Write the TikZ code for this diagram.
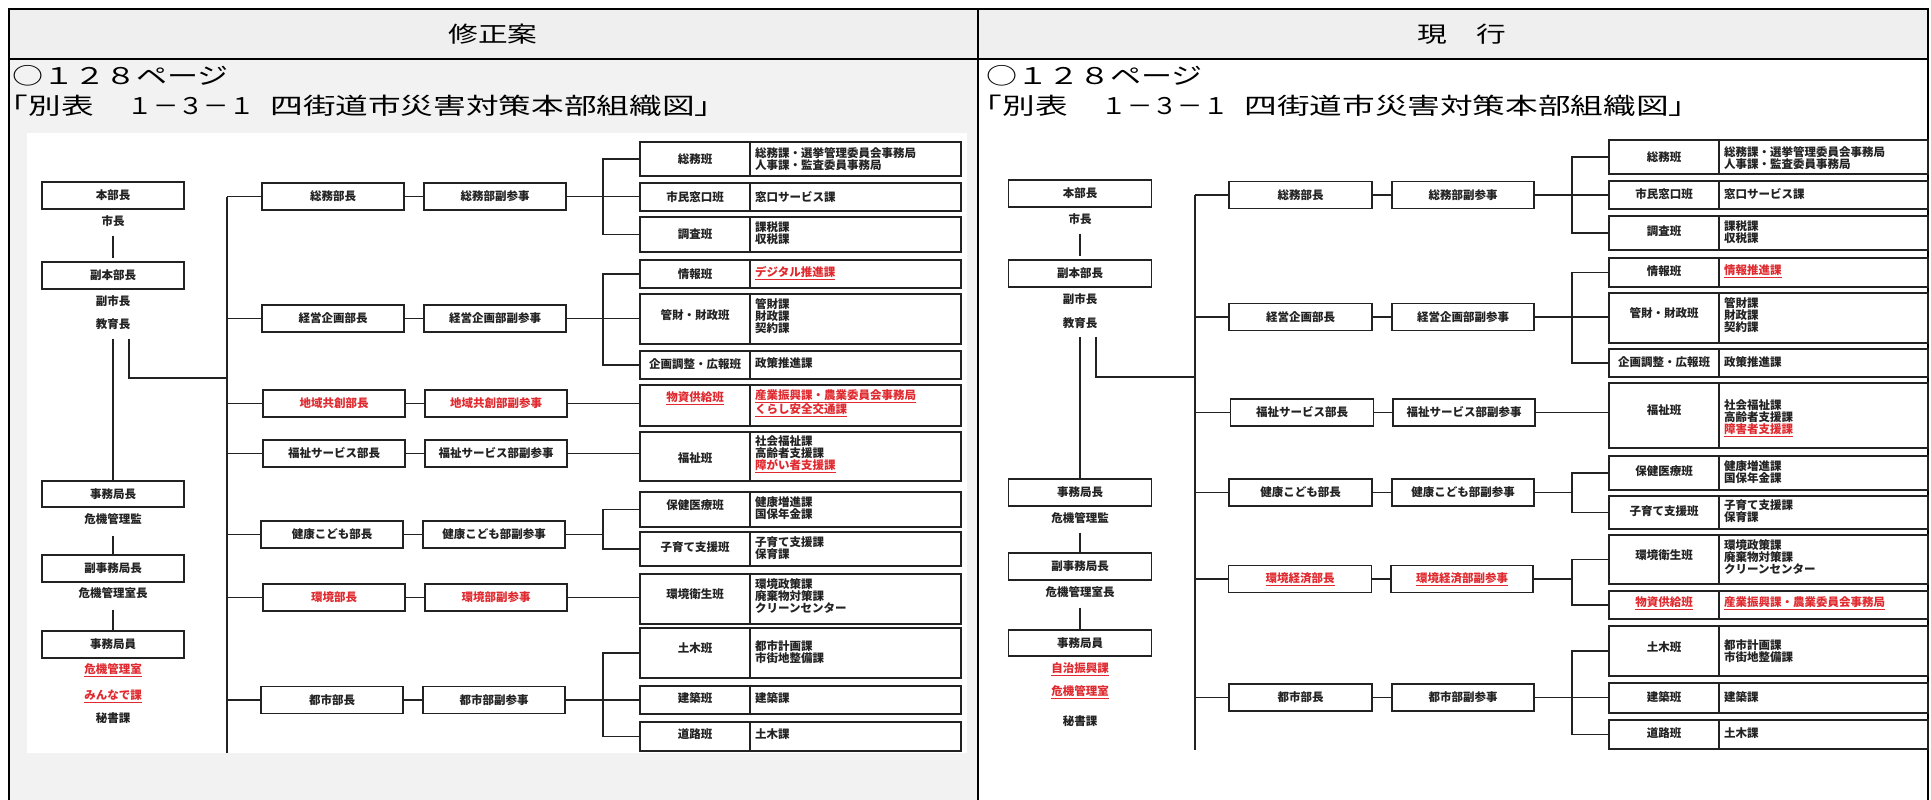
\documentclass[tikz,border=0pt]{standalone}
\usepackage{fontspec}
\setmainfont{Noto Sans CJK JP}
\newfontfamily\jpwide[FakeStretch=1.35]{Noto Sans CJK JP}
\newfontfamily\jpwider[FakeStretch=1.42]{Noto Sans CJK JP}
\newfontfamily\jpmid[FakeStretch=1.1]{Noto Sans CJK JP}
\definecolor{jred}{HTML}{E02A2F}
\definecolor{ink}{HTML}{222222}
\definecolor{panelgray}{HTML}{F2F2F2}
\definecolor{headgray}{HTML}{EFEFEF}
\newcommand\redul[1]{\textcolor{jred}{\underline{#1}}}
\newcommand\titletwo{{\jpwider\fontsize{23}{25}\selectfont{\addfontfeatures{RawFeature=+halt}「}別表\hspace{34pt}{\jpmid １－３－１}\hspace{16pt}四街道市災害対策本部組織図」}}
\tikzset{
  bxn/.style={draw=ink, line width=1.4pt, inner sep=0pt},
  conn/.style={draw=ink, line width=1.4pt},
  lab/.style={text=ink, font=\fontsize{11.5}{12.2}\selectfont\bfseries, inner sep=2pt},
  pbox/.style={bxn, text=ink, font=\fontsize{11.5}{12.2}\selectfont\bfseries, minimum width=142pt, minimum height=27pt},
  redbox/.style={pbox, text=jred},
  frame/.style={line width=2.6pt, draw=black},
  headtxt/.style={text=black, inner sep=0pt, font=\jpwide\fontsize{22}{24}\selectfont},
  titletxt/.style={text=black, inner sep=0pt, anchor=west, font=\jpwide\fontsize{23}{25}\selectfont},
}
\newcommand\hanrow[7]{%
  \node[bxn, minimum width={(\hxb-\hxa)*1pt}, minimum height={(#3-#2)*1pt}] (#1) at ({(\hxa+\hxb)/2},{(#2+#3)/2}) {};
  \node[bxn, minimum width={(\hxc-\hxb)*1pt}, minimum height={(#3-#2)*1pt}] (#1k) at ({(\hxb+\hxc)/2},{(#2+#3)/2}) {};
  \node[lab] (#1l) at ({(\hxa+\hxb)/2},#4) {#5};
  \node[lab, anchor=west, align=left] (#1t) at ({\hxb+3},#6) {#7};
}
\begin{document}
\begin{tikzpicture}[x=1pt,y=-1pt]
\useasboundingbox (0,0) rectangle (1931,800);
% backgrounds
\fill[white] (0,0) rectangle (1931,800);
\fill[headgray] (9,9) rectangle (1928,59);
\fill[panelgray] (9,59) rectangle (978,800);
\fill[white] (27,133) rectangle (967,753);
% frame
\draw[frame] (9,800) -- (9,9) -- (1928,9) -- (1928,800);
\draw[frame] (9,59) -- (1928,59);
\draw[frame] (978,9) -- (978,800);
% headers and titles
\node[headtxt] (hL) at (493,34) {修正案};
\node[headtxt] (hR) at (1462,34) {現　行};
\node[titletxt] (t1L) at (12,76) {○１２８ページ};
\node[titletxt] (t2L) at (12,106) {\titletwo};
\node[titletxt] (t1R) at (986,76) {○１２８ページ};
\node[titletxt] (t2R) at (986,106) {\titletwo};

%================ LEFT PANEL =================
\node[pbox] (L-hb) at (113,195.5) {本部長};
\node[lab] (L-s1) at (113,221) {市長};
\node[pbox] (L-fhb) at (113,275.5) {副本部長};
\node[lab] (L-s2) at (113,301) {副市長};
\node[lab] (L-s3) at (113,324) {教育長};
\node[pbox, minimum height=26pt] (L-jc) at (113,494) {事務局長};
\node[lab] (L-s4) at (113,519) {危機管理監};
\node[pbox] (L-fjc) at (113,568.5) {副事務局長};
\node[lab] (L-s5) at (113,593) {危機管理室長};
\node[pbox] (L-ji) at (113,644.5) {事務局員};
\node[lab] (L-s6) at (113,670) {\redul{危機管理室}};
\node[lab] (L-s7) at (113,696) {\redul{みんなで課}};
\node[lab] (L-s8) at (113,718) {秘書課};
\draw[conn, shorten <=7pt, shorten >=3pt] (L-s1.south) -- (L-fhb.north);
\draw[conn, shorten <=7pt] (L-s3.south) -- (L-jc.north);
\draw[conn, shorten <=9pt] (L-s4.south) -- (L-fjc.north);
\draw[conn, shorten <=9pt] (L-s5.south) -- (L-ji.north);
\coordinate (L-tk1) at (227,196.5);
\coordinate (L-tk2) at (227,753);
\coordinate (L-tj) at (227,378);
\coordinate (L-bk) at (603,0);
\draw[conn, shorten <=7pt] ([xshift=16pt]L-s3.south) |- (L-tj);
\draw[conn] (L-tk1) -- (L-tk2);
% bucho
\node[pbox] (L-b1) at (333,196.5) {総務部長};
\node[pbox] (L-b2) at (333,318.5) {経営企画部長};
\node[redbox] (L-b3) at (334,403.5) {地域共創部長};
\node[pbox] (L-b4) at (334,453.5) {福祉サービス部長};
\node[pbox] (L-b5) at (332,534.5) {健康こども部長};
\node[redbox] (L-b6) at (334,597.5) {環境部長};
\node[pbox] (L-b7) at (332,700) {都市部長};
\foreach \n in {1,...,7}{\draw[conn] (L-b\n.west -| L-tk1) -- (L-b\n.west);}
% fukusanji
\node[pbox] (L-f1) at (495,196.5) {総務部副参事};
\node[pbox] (L-f2) at (495,318.5) {経営企画部副参事};
\node[redbox] (L-f3) at (496,403.5) {地域共創部副参事};
\node[pbox] (L-f4) at (496,453.5) {福祉サービス部副参事};
\node[pbox] (L-f5) at (494,534.5) {健康こども部副参事};
\node[redbox] (L-f6) at (496,597.5) {環境部副参事};
\node[pbox] (L-f7) at (494,700) {都市部副参事};
\foreach \n in {1,...,7}{\draw[conn] (L-b\n) -- (L-f\n);}
% han rows
\def\hxa{640}\def\hxb{750}\def\hxc{961}
\hanrow{L-r1}{142}{176}{159}{総務班}{159}{総務課・選挙管理委員会事務局\\人事課・監査委員事務局}
\hanrow{L-r2}{183}{211}{197}{市民窓口班}{197}{窓口サービス課}
\hanrow{L-r3}{217}{252}{234}{調査班}{233}{課税課\\収税課}
\hanrow{L-r4}{260}{288}{274}{情報班}{273}{\redul{デジタル推進課}}
\hanrow{L-r5}{294}{344}{315}{管財・財政班}{316}{管財課\\財政課\\契約課}
\hanrow{L-r6}{351}{379}{364}{企画調整・広報班}{363}{政策推進課}
\hanrow{L-r7}{385}{426}{398}{\redul{物資供給班}}{403}{\redul{産業振興課・農業委員会事務局}\\\redul{くらし安全交通課}}
\hanrow{L-r8}{432}{481}{458}{福祉班}{454}{社会福祉課\\高齢者支援課\\\redul{障がい者支援課}}
\hanrow{L-r9}{492}{527}{505}{保健医療班}{508}{健康増進課\\国保年金課}
\hanrow{L-r10}{532}{566}{547}{子育て支援班}{548}{子育て支援課\\保育課}
\hanrow{L-r11}{574}{624}{594}{環境衛生班}{596}{環境政策課\\廃棄物対策課\\クリーンセンター}
\hanrow{L-r12}{628}{678}{648}{土木班}{652}{都市計画課\\市街地整備課}
\hanrow{L-r13}{686}{714}{698}{建築班}{698}{建築課}
\hanrow{L-r14}{722}{751}{734}{道路班}{734}{土木課}
% brackets
\draw[conn] (L-r1.west) -- (L-r1.west -| L-bk) -- (L-r3.west -| L-bk) -- (L-r3.west);
\draw[conn] (L-f1.east) -- (L-f1.east -| L-r2.west);
\draw[conn] (L-r4.west) -- (L-r4.west -| L-bk) -- (L-r6.west -| L-bk) -- (L-r6.west);
\draw[conn] (L-f2.east) -- (L-f2.east -| L-r5.west);
\draw[conn] (L-f3.east) -- (L-f3.east -| L-r7.west);
\draw[conn] (L-f4.east) -- (L-f4.east -| L-r8.west);
\draw[conn] (L-r9.west) -- (L-r9.west -| L-bk) -- (L-r10.west -| L-bk) -- (L-r10.west);
\draw[conn] (L-f5.east) -- (L-f5.east -| L-bk);
\draw[conn] (L-f6.east) -- (L-f6.east -| L-r11.west);
\draw[conn] (L-r12.west) -- (L-r12.west -| L-bk) -- (L-r14.west -| L-bk) -- (L-r14.west);
\draw[conn] (L-f7.east) -- (L-f7.east -| L-r13.west);

%================ RIGHT PANEL =================
\node[pbox, minimum width=143pt] (R-hb) at (1080,193.5) {本部長};
\node[lab] (R-s1) at (1080,219) {市長};
\node[pbox, minimum width=143pt] (R-fhb) at (1080,273.5) {副本部長};
\node[lab] (R-s2) at (1080,299) {副市長};
\node[lab] (R-s3) at (1080,323) {教育長};
\node[pbox, minimum width=143pt] (R-jc) at (1080,492.5) {事務局長};
\node[lab] (R-s4) at (1080,518) {危機管理監};
\node[pbox, minimum width=143pt] (R-fjc) at (1080,566.5) {副事務局長};
\node[lab] (R-s5) at (1080,592) {危機管理室長};
\node[pbox, minimum width=143pt, minimum height=26pt] (R-ji) at (1080,643) {事務局員};
\node[lab] (R-s6) at (1080,669) {\redul{自治振興課}};
\node[lab] (R-s7) at (1080,692) {\redul{危機管理室}};
\node[lab] (R-s8) at (1080,721) {秘書課};
\draw[conn, shorten <=7pt, shorten >=3pt] (R-s1.south) -- (R-fhb.north);
\draw[conn, shorten <=6pt] (R-s3.south) -- (R-jc.north);
\draw[conn, shorten <=7pt] (R-s4.south) -- (R-fjc.north);
\draw[conn, shorten <=8pt] (R-s5.south) -- (R-ji.north);
\coordinate (R-tk1) at (1195,195);
\coordinate (R-tk2) at (1195,750);
\coordinate (R-tj) at (1195,377);
\coordinate (R-bk) at (1572,0);
\draw[conn, shorten <=6pt] ([xshift=16pt]R-s3.south) |- (R-tj);
\draw[conn] (R-tk1) -- (R-tk2);
\node[pbox, minimum width=143pt] (R-b1) at (1300.5,195) {総務部長};
\node[pbox, minimum width=143pt] (R-b2) at (1300.5,317) {経営企画部長};
\node[pbox, minimum width=143pt] (R-b3) at (1302,412.5) {福祉サービス部長};
\node[pbox, minimum width=143pt] (R-b4) at (1300.5,492.5) {健康こども部長};
\node[redbox, minimum width=143pt] (R-b5) at (1300,579) {\underline{環境経済部長}};
\node[pbox, minimum width=143pt] (R-b6) at (1300.5,697.5) {都市部長};
\foreach \n in {1,...,6}{\draw[conn] (R-b\n.west -| R-tk1) -- (R-b\n.west);}
\node[pbox] (R-f1) at (1463,195) {総務部副参事};
\node[pbox] (R-f2) at (1463,317) {経営企画部副参事};
\node[pbox] (R-f3) at (1464,412.5) {福祉サービス部副参事};
\node[pbox] (R-f4) at (1463,492.5) {健康こども部副参事};
\node[redbox] (R-f5) at (1462,579) {\underline{環境経済部副参事}};
\node[pbox] (R-f6) at (1463,697.5) {都市部副参事};
\foreach \n in {1,...,6}{\draw[conn] (R-b\n) -- (R-f\n);}
\def\hxa{1609}\def\hxb{1719}\def\hxc{1928}
\hanrow{R-r1}{140}{174}{157}{総務班}{158}{総務課・選挙管理委員会事務局\\人事課・監査委員事務局}
\hanrow{R-r2}{181}{209}{194}{市民窓口班}{194}{窓口サービス課}
\hanrow{R-r3}{216}{250}{231}{調査班}{232}{課税課\\収税課}
\hanrow{R-r4}{258}{287}{271}{情報班}{271}{\redul{情報推進課}}
\hanrow{R-r5}{293}{343}{313}{管財・財政班}{315}{管財課\\財政課\\契約課}
\hanrow{R-r6}{349}{377}{362}{企画調整・広報班}{362}{政策推進課}
\hanrow{R-r7}{383}{448}{410}{福祉班}{418}{社会福祉課\\高齢者支援課\\\redul{障害者支援課}}
\hanrow{R-r8}{456}{490}{471}{保健医療班}{472}{健康増進課\\国保年金課}
\hanrow{R-r9}{496}{529}{511}{子育て支援班}{511}{子育て支援課\\保育課}
\hanrow{R-r10}{535}{584}{555}{環境衛生班}{557}{環境政策課\\廃棄物対策課\\クリーンセンター}
\hanrow{R-r11}{591}{619}{603}{\redul{物資供給班}}{603}{\redul{産業振興課・農業委員会事務局}}
\hanrow{R-r12}{626}{676}{647}{土木班}{651}{都市計画課\\市街地整備課}
\hanrow{R-r13}{683}{713}{697}{建築班}{697}{建築課}
\hanrow{R-r14}{720}{749}{733}{道路班}{733}{土木課}
\draw[conn] (R-r1.west) -- (R-r1.west -| R-bk) -- (R-r3.west -| R-bk) -- (R-r3.west);
\draw[conn] (R-f1.east) -- (R-f1.east -| R-r2.west);
\draw[conn] (R-r4.west) -- (R-r4.west -| R-bk) -- (R-r6.west -| R-bk) -- (R-r6.west);
\draw[conn] (R-f2.east) -- (R-f2.east -| R-r5.west);
\draw[conn] (R-f3.east) -- (R-f3.east -| R-r7.west);
\draw[conn] (R-r8.west) -- (R-r8.west -| R-bk) -- (R-r9.west -| R-bk) -- (R-r9.west);
\draw[conn] (R-f4.east) -- (R-f4.east -| R-bk);
\draw[conn] (R-r10.west) -- (R-r10.west -| R-bk) -- (R-r11.west -| R-bk) -- (R-r11.west);
\draw[conn] (R-f5.east) -- (R-f5.east -| R-bk);
\draw[conn] (R-r12.west) -- (R-r12.west -| R-bk) -- (R-r14.west -| R-bk) -- (R-r14.west);
\draw[conn] (R-f6.east) -- (R-f6.east -| R-r13.west);
\end{tikzpicture}
\end{document}
